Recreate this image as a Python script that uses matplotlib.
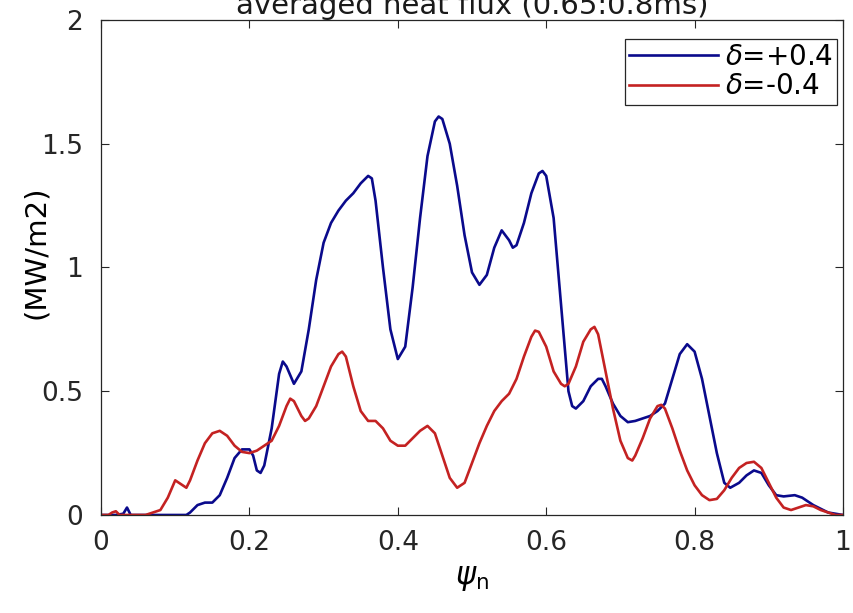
import matplotlib
matplotlib.use("Agg")
import matplotlib.pyplot as plt

# normalised flux coordinate and averaged heat flux (MW/m2)
psi_pos = [0.00, 0.02, 0.03, 0.035, 0.04, 0.06, 0.08, 0.10, 0.115, 0.12, 0.13, 0.14,
           0.15, 0.16, 0.17, 0.18, 0.19, 0.20, 0.205, 0.21, 0.215, 0.22, 0.23, 0.24,
           0.245, 0.25, 0.26, 0.27, 0.28, 0.29, 0.30, 0.31, 0.32, 0.33, 0.34, 0.35,
           0.36, 0.365, 0.37, 0.38, 0.39, 0.40, 0.41, 0.42, 0.43, 0.44, 0.45, 0.455,
           0.46, 0.47, 0.48, 0.49, 0.50, 0.51, 0.52, 0.53, 0.54, 0.55, 0.555, 0.56,
           0.57, 0.58, 0.59, 0.595, 0.60, 0.61, 0.62, 0.63, 0.635, 0.64, 0.65, 0.66,
           0.67, 0.675, 0.68, 0.69, 0.70, 0.71, 0.72, 0.73, 0.74, 0.75, 0.76, 0.77,
           0.78, 0.79, 0.80, 0.81, 0.82, 0.83, 0.84, 0.848, 0.86, 0.87, 0.88, 0.89,
           0.90, 0.91, 0.92, 0.935, 0.945, 0.96, 0.98, 1.00]
flux_pos = [0.0, 0.0, 0.005, 0.03, 0.0, 0.0, 0.0, 0.0, 0.0, 0.01, 0.04, 0.05,
            0.05, 0.08, 0.15, 0.23, 0.265, 0.265, 0.24, 0.18, 0.17, 0.20, 0.35, 0.57,
            0.62, 0.60, 0.53, 0.58, 0.75, 0.95, 1.10, 1.18, 1.23, 1.27, 1.30, 1.34,
            1.37, 1.36, 1.27, 1.00, 0.75, 0.63, 0.68, 0.92, 1.20, 1.45, 1.59, 1.61,
            1.60, 1.50, 1.33, 1.13, 0.98, 0.93, 0.97, 1.08, 1.15, 1.11, 1.08, 1.09,
            1.18, 1.30, 1.38, 1.39, 1.37, 1.20, 0.85, 0.50, 0.44, 0.43, 0.46, 0.52,
            0.55, 0.55, 0.52, 0.45, 0.40, 0.375, 0.38, 0.39, 0.40, 0.42, 0.45, 0.55,
            0.65, 0.69, 0.66, 0.55, 0.40, 0.25, 0.13, 0.11, 0.13, 0.16, 0.18, 0.17,
            0.12, 0.08, 0.075, 0.08, 0.07, 0.04, 0.01, 0.0]

psi_neg = [0.00, 0.01, 0.015, 0.02, 0.025, 0.04, 0.06, 0.07, 0.08, 0.09, 0.10, 0.11,
           0.115, 0.12, 0.13, 0.14, 0.15, 0.16, 0.17, 0.18, 0.19, 0.20, 0.21, 0.22,
           0.23, 0.24, 0.25, 0.255, 0.26, 0.27, 0.275, 0.28, 0.29, 0.30, 0.31, 0.32,
           0.325, 0.33, 0.34, 0.35, 0.36, 0.37, 0.38, 0.39, 0.40, 0.41, 0.42, 0.43,
           0.44, 0.45, 0.46, 0.47, 0.48, 0.49, 0.50, 0.51, 0.52, 0.53, 0.54, 0.55,
           0.56, 0.57, 0.58, 0.585, 0.59, 0.60, 0.61, 0.62, 0.625, 0.63, 0.64, 0.65,
           0.66, 0.665, 0.67, 0.68, 0.69, 0.70, 0.71, 0.716, 0.72, 0.73, 0.74, 0.75,
           0.755, 0.76, 0.77, 0.78, 0.79, 0.80, 0.81, 0.82, 0.83, 0.84, 0.85, 0.86,
           0.87, 0.88, 0.89, 0.90, 0.91, 0.92, 0.93, 0.94, 0.95, 0.96, 0.97, 0.98,
           0.99, 1.00]
flux_neg = [0.0, 0.0, 0.01, 0.015, 0.0, 0.0, 0.0, 0.01, 0.02, 0.07, 0.14, 0.12,
            0.11, 0.14, 0.22, 0.29, 0.33, 0.34, 0.32, 0.28, 0.255, 0.25, 0.26, 0.28,
            0.30, 0.36, 0.44, 0.47, 0.46, 0.40, 0.38, 0.39, 0.44, 0.52, 0.60, 0.65,
            0.66, 0.64, 0.52, 0.42, 0.38, 0.38, 0.35, 0.30, 0.28, 0.28, 0.31, 0.34,
            0.36, 0.33, 0.24, 0.15, 0.11, 0.13, 0.21, 0.29, 0.36, 0.42, 0.46, 0.49,
            0.55, 0.64, 0.72, 0.745, 0.74, 0.68, 0.58, 0.53, 0.52, 0.53, 0.60, 0.70,
            0.75, 0.76, 0.73, 0.58, 0.43, 0.30, 0.23, 0.22, 0.24, 0.31, 0.39, 0.44,
            0.445, 0.43, 0.35, 0.26, 0.18, 0.12, 0.08, 0.06, 0.065, 0.10, 0.15, 0.19,
            0.21, 0.215, 0.19, 0.13, 0.07, 0.03, 0.02, 0.03, 0.04, 0.035, 0.02, 0.01,
            0.0, 0.0]

xticks = [0, 0.2, 0.4, 0.6, 0.8, 1]
xtick_labels = ["0", "0.2", "0.4", "0.6", "0.8", "1"]
yticks = [0, 0.5, 1, 1.5, 2]
ytick_labels = ["0", "0.5", "1", "1.5", "2"]

fig = plt.figure(figsize=(8.54, 6.13), dpi=100)
ax = fig.add_axes([0.1183, 0.1599, 0.8688, 0.8075])

ax.plot(psi_pos, flux_pos, color="#0a0a8c", lw=1.9, label=r"$\delta$=+0.4")
ax.plot(psi_neg, flux_neg, color="#c42222", lw=1.9, label=r"$\delta$=-0.4")

ax.set_xlim(0, 1)
ax.set_ylim(0, 2)
ax.set_xticks(xticks)
ax.set_xticklabels(xtick_labels)
ax.set_yticks(yticks)
ax.set_yticklabels(ytick_labels)
ax.tick_params(direction="in", length=6, width=0.8, top=True, right=True,
               labelsize=19, colors="#262626")
ax.tick_params(axis="x", pad=11)
ax.tick_params(axis="y", pad=13)
for s in ax.spines.values():
    s.set_color("#262626")
    s.set_linewidth(0.9)

ax.set_title("averaged heat flux (0.65:0.8ms)", fontsize=21, pad=4, color="#1a1a1a")
ax.set_xlabel(r"$\psi_\mathrm{n}$", fontsize=22)
ax.xaxis.set_label_coords(0.5, -0.1)
ax.set_ylabel("(MW/m2)", fontsize=21)
ax.yaxis.set_label_coords(-0.069, 0.53)

leg = ax.legend(loc="upper right", bbox_to_anchor=(0.992, 0.962), borderaxespad=0,
                fontsize=20, handlelength=3.2, handletextpad=0.25,
                borderpad=0.15, labelspacing=0.05, fancybox=False, framealpha=1,
                edgecolor="#262626")
leg.get_frame().set_linewidth(0.9)

fig.savefig("out.png", dpi=100)
